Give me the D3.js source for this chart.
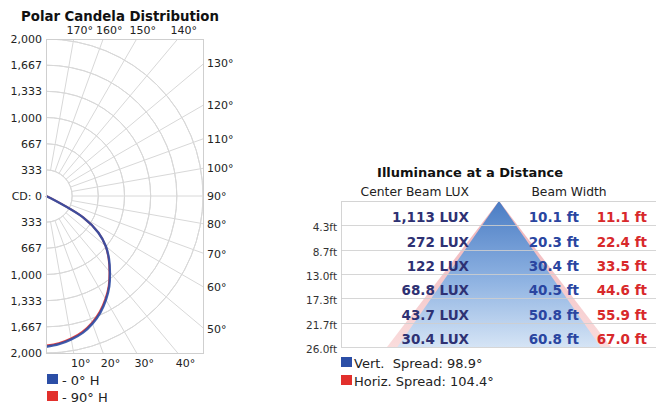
<!DOCTYPE html>
<html>
<head>
<meta charset="utf-8">
<script src="https://cdn.jsdelivr.net/npm/d3@7"></script>
<style>
  body { margin: 0; background: #fff; }
  svg { display: block; font-family: "DejaVu Sans", Verdana, sans-serif; }
</style>
</head>
<body>
<div id="chart"></div>
<script>
// polar candela data (angle from nadir, candela)
var angles = [0, 5, 10, 15, 20, 25, 30, 35, 40, 45, 50, 55, 60, 65, 70, 75, 80, 85, 90];
var cd0H  = [1920, 1895, 1855, 1805, 1730, 1638, 1527, 1405, 1266, 1135, 995, 815, 545, 60, 0, 0, 0, 0, 0];
var cd90H = [1905, 1882, 1842, 1790, 1716, 1624, 1514, 1394, 1258, 1128, 992, 815, 550, 65, 0, 0, 0, 0, 0];
var cdTicks = [-2000, -1666.67, -1333.33, -1000, -666.67, -333.33, 0, 333.33, 666.67, 1000, 1333.33, 1666.67, 2000];
var angleLabels = [10, 20, 30, 40, 50, 60, 70, 80, 90, 100, 110, 120, 130, 140, 150, 160, 170];
var polarSeries = ["- 0° H", "- 90° H"];

// illuminance table data
var distances = [4.3, 8.7, 13.0, 17.3, 21.7, 26.0];
var luxValues = [1113, 272, 122, 68.8, 43.7, 30.4];
var vertWidth = [10.1, 20.3, 30.4, 40.5, 50.8, 60.8];
var horizWidth = [11.1, 22.4, 33.5, 44.6, 55.9, 67.0];
var spreadLabels = ["Vert.  Spread: 98.9°", "Horiz. Spread: 104.4°"];

var blue = "#2b4ea6", red = "#e2302c";

var svg = d3.select("#chart").append("svg")
  .attr("width", 656)
  .attr("height", 405);

var defs = svg.append("defs");

// ---------- Polar chart ----------
var cx = 46, cy = 196, R = 157, frameW = 158;
var rScale = d3.scaleLinear().domain([0, 2000]).range([0, R]);
var yScale = d3.scaleLinear().domain([-2000, 2000]).range([cy + R, cy - R]);

svg.append("text")
  .attr("x", 120).attr("y", 21)
  .attr("text-anchor", "middle")
  .attr("font-size", "13.3px").attr("font-weight", "bold")
  .attr("fill", "#111")
  .text("Polar Candela Distribution");

defs.append("clipPath").attr("id", "polarClip")
  .append("rect")
  .attr("x", cx).attr("y", cy - R)
  .attr("width", frameW).attr("height", 2 * R + 1);

var polar = svg.append("g").attr("transform", `translate(${cx},${cy})`);
var grid = polar.append("g").attr("clip-path", "url(#polarClip)")
  .attr("transform", `translate(${-cx},${-cy})`)
  .append("g").attr("transform", `translate(${cx},${cy})`);

// rings
var ringArc = d3.arc().startAngle(0).endAngle(Math.PI);
cdTicks.filter(d => d > 0).forEach(function(v) {
  grid.append("path")
    .attr("d", ringArc({ innerRadius: rScale(v), outerRadius: rScale(v) }))
    .attr("fill", "none")
    .attr("stroke", "#d8d8d8")
    .attr("stroke-width", 1);
});

// spokes
d3.range(10, 180, 10).forEach(function(a) {
  var t = a * Math.PI / 180;
  var r0 = rScale(333.33), r1 = 400;
  grid.append("line")
    .attr("x1", r0 * Math.sin(t)).attr("y1", r0 * Math.cos(t))
    .attr("x2", r1 * Math.sin(t)).attr("y2", r1 * Math.cos(t))
    .attr("stroke", "#d8d8d8")
    .attr("stroke-width", 1);
});

// frame
svg.append("rect")
  .attr("x", cx + 0.5).attr("y", cy - R + 0.5)
  .attr("width", frameW - 1).attr("height", 2 * R)
  .attr("fill", "none")
  .attr("stroke", "#cfcfcf");

// candela axis
var leftAxis = d3.axisLeft(yScale)
  .tickValues(cdTicks)
  .tickSize(0)
  .tickPadding(4)
  .tickFormat(d => Math.abs(d) < 1 ? "CD: 0" : d3.format(",")(Math.round(Math.abs(d))));

svg.append("g")
  .attr("transform", `translate(${cx},0)`)
  .call(leftAxis)
  .call(g => g.select(".domain").remove())
  .selectAll("text")
  .attr("font-family", "DejaVu Sans, sans-serif")
  .attr("font-size", "11px")
  .attr("fill", "#222");

// angle labels on the frame edges
angleLabels.forEach(function(a) {
  var t = a * Math.PI / 180;
  var s = Math.sin(t), c = Math.cos(t);
  var tx = frameW / s;
  var ty = c > 0 ? (R + 1) / c : (c < 0 ? R / -c : Infinity);
  var k = Math.min(tx, ty);
  var px = k * s, py = k * c;
  var lab = polar.append("text")
    .attr("font-size", "11px")
    .attr("fill", "#222")
    .text(a + "°");
  if (tx <= ty) {
    lab.attr("x", px + 3).attr("y", py + 4).attr("text-anchor", "start");
  } else if (c > 0) {
    lab.attr("x", px + 7).attr("y", py + 13).attr("text-anchor", "middle");
  } else {
    lab.attr("x", px + 6).attr("y", py - 5).attr("text-anchor", "middle");
  }
});

// candela curves
var radial = d3.lineRadial()
  .angle(d => Math.PI - d[0] * Math.PI / 180)
  .radius(d => rScale(d[1]))
  .curve(d3.curveCatmullRom);

[[cd90H, red, 2], [cd0H, blue, 2.4]].forEach(function(s) {
  polar.append("path")
    .datum(angles.map((a, i) => [a, s[0][i]]))
    .attr("d", radial)
    .attr("fill", "none")
    .attr("stroke", s[1])
    .attr("stroke-width", s[2])
    .attr("opacity", 0.9);
});

// polar legend
var polarLegend = svg.append("g").attr("transform", "translate(47,374)");
polarSeries.forEach(function(name, i) {
  var g = polarLegend.append("g").attr("transform", `translate(0,${i * 17})`);
  g.append("rect").attr("width", 11).attr("height", 10).attr("fill", i === 0 ? blue : red);
  g.append("text")
    .attr("x", 15).attr("y", 10.5)
    .attr("font-size", "13px")
    .attr("fill", "#222")
    .text(name);
});

// ---------- Illuminance at a distance ----------
var tableLeft = 341, tableRight = 656, apexX = 499;
var dScale = d3.scaleLinear().domain([0, 26]).range([201, 347]);
var wScale = d3.scaleLinear().domain([-35, 35]).range([apexX - 117, apexX + 117]);

svg.append("text")
  .attr("x", 470).attr("y", 177)
  .attr("text-anchor", "middle")
  .attr("font-size", "13px").attr("font-weight", "bold")
  .attr("fill", "#111")
  .text("Illuminance at a Distance");

svg.append("text")
  .attr("x", 469).attr("y", 196)
  .attr("text-anchor", "end")
  .attr("font-size", "12.3px")
  .attr("fill", "#222")
  .text("Center Beam LUX");

svg.append("text")
  .attr("x", 569).attr("y", 196)
  .attr("text-anchor", "middle")
  .attr("font-size", "12.3px")
  .attr("fill", "#222")
  .text("Beam Width");

var blueGrad = defs.append("linearGradient").attr("id", "blueGrad")
  .attr("x1", 0).attr("y1", 0).attr("x2", 0).attr("y2", 1);
blueGrad.append("stop").attr("offset", "0%").attr("stop-color", "#4a7cc4");
blueGrad.append("stop").attr("offset", "55%").attr("stop-color", "#8fb3e2");
blueGrad.append("stop").attr("offset", "100%").attr("stop-color", "#d5e4f5");

var redGrad = defs.append("linearGradient").attr("id", "redGrad")
  .attr("x1", 0).attr("y1", 0).attr("x2", 0).attr("y2", 1);
redGrad.append("stop").attr("offset", "0%").attr("stop-color", "#eeb0b6");
redGrad.append("stop").attr("offset", "100%").attr("stop-color", "#fadcdc");

var lastD = distances[distances.length - 1];
var hw = horizWidth[horizWidth.length - 1] / 2;
var vw = vertWidth[vertWidth.length - 1] / 2;

svg.append("path")
  .attr("d", d3.line()([[wScale(0), dScale(0)], [wScale(-hw), dScale(lastD)], [wScale(hw), dScale(lastD)]]) + "Z")
  .attr("fill", "url(#redGrad)");

svg.append("path")
  .attr("d", d3.line()([[wScale(0), dScale(0)], [wScale(-vw), dScale(lastD)], [wScale(vw), dScale(lastD)]]) + "Z")
  .attr("fill", "url(#blueGrad)");

// table lines
svg.append("line")
  .attr("x1", tableLeft).attr("x2", tableRight)
  .attr("y1", dScale(0) + 0.5).attr("y2", dScale(0) + 0.5)
  .attr("stroke", "#d4d4d4");
svg.append("line")
  .attr("x1", tableLeft + 0.5).attr("x2", tableLeft + 0.5)
  .attr("y1", dScale(0)).attr("y2", dScale(lastD))
  .attr("stroke", "#d4d4d4");

svg.selectAll(".rowLine")
  .data(distances)
  .enter()
  .append("line")
  .attr("x1", tableLeft).attr("x2", tableRight)
  .attr("y1", d => Math.round(dScale(d)) + 0.5)
  .attr("y2", d => Math.round(dScale(d)) + 0.5)
  .attr("stroke", "#cfcfcf")
  .attr("opacity", 0.85);

svg.selectAll(".distLabel")
  .data(distances)
  .enter()
  .append("text")
  .attr("x", 337)
  .attr("y", d => dScale(d) + 6)
  .attr("text-anchor", "end")
  .attr("font-size", "10.5px")
  .attr("fill", "#333")
  .text(d => d3.format(".1f")(d) + "ft");

var luxFmt = v => v >= 100 ? d3.format(",.0f")(v) : d3.format(".1f")(v);

svg.selectAll(".lux")
  .data(luxValues)
  .enter()
  .append("text")
  .attr("x", 469)
  .attr("y", (d, i) => dScale(distances[i]) - 3)
  .attr("text-anchor", "end")
  .attr("font-size", "13.5px").attr("font-weight", "bold")
  .attr("fill", "#2e3173")
  .text(d => luxFmt(d) + " LUX");

svg.selectAll(".vw")
  .data(vertWidth)
  .enter()
  .append("text")
  .attr("x", 579)
  .attr("y", (d, i) => dScale(distances[i]) - 3)
  .attr("text-anchor", "end")
  .attr("font-size", "13.5px").attr("font-weight", "bold")
  .attr("fill", "#2a45a0")
  .text(d => d3.format(".1f")(d) + " ft");

svg.selectAll(".hw")
  .data(horizWidth)
  .enter()
  .append("text")
  .attr("x", 647)
  .attr("y", (d, i) => dScale(distances[i]) - 3)
  .attr("text-anchor", "end")
  .attr("font-size", "13.5px").attr("font-weight", "bold")
  .attr("fill", "#d8292b")
  .text(d => d3.format(".1f")(d) + " ft");

// spread legend
var spreadLegend = svg.append("g").attr("transform", "translate(341,357)");
spreadLabels.forEach(function(name, i) {
  var g = spreadLegend.append("g").attr("transform", `translate(0,${i * 18})`);
  g.append("rect").attr("width", 11).attr("height", 10).attr("fill", i === 0 ? blue : red);
  g.append("text")
    .attr("x", 13).attr("y", 11)
    .attr("font-size", "13px")
    .attr("fill", "#222")
    .style("white-space", "pre")
    .text(name);
});
</script>
</body>
</html>
